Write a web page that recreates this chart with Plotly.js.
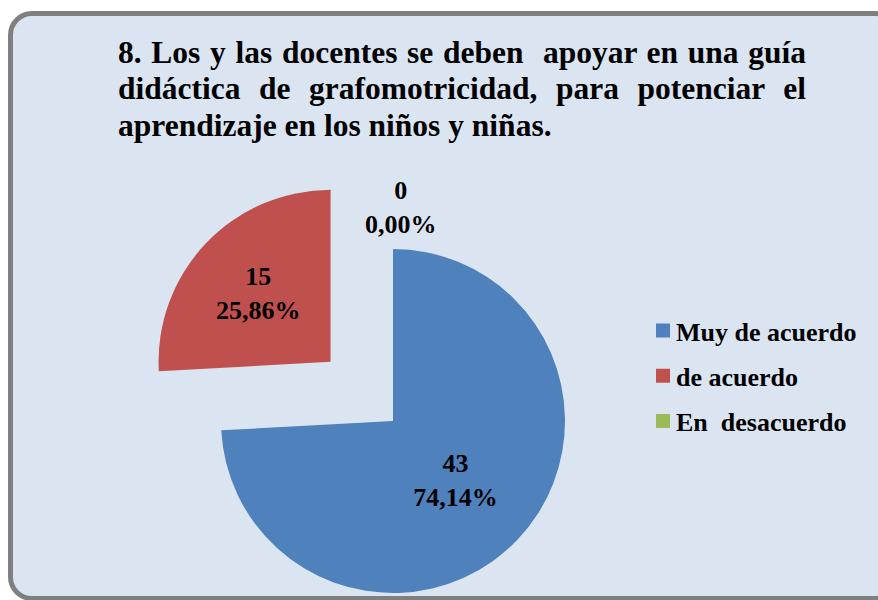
<!DOCTYPE html>
<html><head><meta charset="utf-8">
<script src="https://cdn.plot.ly/plotly-3.0.1.min.js"></script>
<style>
html,body{margin:0;padding:0;width:878px;height:600px;overflow:hidden;background:#ffffff;}
#frame{position:absolute;left:8px;top:11px;width:892px;height:590px;box-sizing:border-box;border:5px solid #7f7f7f;border-radius:24px;background:#dbe5f1;}
#chart{position:absolute;left:0;top:0;width:878px;height:700px;}
</style></head><body>
<div id="frame"></div>
<div id="chart"></div>
<script>
const categories = ['Muy de acuerdo', 'de acuerdo', 'En  desacuerdo'];
const counts = [43, 15, 0];
const sliceColors = ['#4f81bd', '#c0504d', '#9bbb59'];
const titleLines = [
  '8. Los y las docentes se deben  apoyar en una guía',
  'didáctica de grafomotricidad, para potenciar el',
  'aprendizaje en los niños y niñas.'
];

const W = 878, H = 700;
const FONT = 'Liberation Serif, Times New Roman, serif';
const titleTop = [52, 89, 126];
const total = counts.reduce((a, b) => a + b, 0);

const trace = {
  type: 'pie',
  labels: categories,
  values: counts,
  sort: false,
  direction: 'clockwise',
  rotation: 0,
  pull: [0, 0.5, 0],
  marker: {colors: sliceColors, line: {width: 0}},
  texttemplate: '%{value}<br>%{percent:.2%}',
  textposition: ['inside', 'inside', 'none'],
  insidetextorientation: 'horizontal',
  textfont: {family: FONT, size: 26, color: '#000000', weight: 'bold'},
  hoverinfo: 'none',
  domain: {x: [135 / W, 651 / W], y: [21 / H, 537 / H]}
};

const annotations = titleLines.map((t, i) => ({
  text: t, xref: 'paper', yref: 'paper', x: 116 / W, y: 1 - titleTop[i] / H,
  xanchor: 'left', yanchor: 'middle', showarrow: false, align: 'left',
  font: {family: FONT, size: 31.5, color: '#000000', weight: 'bold'}
}));

// label of the empty slice (value 0) shown above the pie
const zeroPct = (counts[2] / total * 100).toFixed(2).replace('.', ',') + '%';
annotations.push({
  text: counts[2] + '<br>' + zeroPct, xref: 'paper', yref: 'paper',
  x: 401 / W, y: 1 - 207 / H, xanchor: 'center', yanchor: 'middle', showarrow: false,
  font: {family: FONT, size: 26, color: '#000000', weight: 'bold'}
});

const layout = {
  width: W, height: H,
  margin: {l: 0, r: 0, t: 0, b: 0},
  paper_bgcolor: 'rgba(0,0,0,0)',
  plot_bgcolor: 'rgba(0,0,0,0)',
  separators: ',.',
  showlegend: true,
  legend: {
    x: 643 / W, xanchor: 'left', y: 1 - 376 / H, yanchor: 'middle',
    bgcolor: 'rgba(0,0,0,0)',
    font: {family: FONT, size: 26, color: '#000000', weight: 'bold'}
  },
  annotations: annotations
};

Plotly.newPlot('chart', [trace], layout, {displayModeBar: false, staticPlot: true}).then(gd => {
  // justify the first two title lines to the width of the block
  const texts = gd.querySelectorAll('.annotation-text');
  const target = 688;
  [0, 1].forEach(i => {
    const el = texts[i];
    if (!el) return;
    const len = el.getComputedTextLength();
    const nSpaces = (titleLines[i].match(/ /g) || []).length;
    if (nSpaces > 0 && len < target) el.style.wordSpacing = ((target - len) / nSpaces) + 'px';
  });
  // legend spacing and symbol size like the reference
  const items = gd.querySelectorAll('.legend .traces');
  if (items.length === 3) {
    const parse = s => { const m = /translate\(([-\d.]+)[ ,]+([-\d.]+)\)/.exec(s || ''); return m ? [+m[1], +m[2]] : [0, 0]; };
    const mid = parse(items[1].getAttribute('transform'));
    items.forEach((it, i) => {
      const p = parse(it.getAttribute('transform'));
      it.setAttribute('transform', 'translate(' + p[0] + ',' + (mid[1] + (i - 1) * 45.25) + ')');
    });
  }
  gd.querySelectorAll('.legend .legendtext').forEach(t => t.setAttribute('x', 33));
  gd.querySelectorAll('.legend .legendpoints path').forEach(p => p.setAttribute('d', 'M7,7H-7V-7H7Z'));
});
</script>
</body></html>
